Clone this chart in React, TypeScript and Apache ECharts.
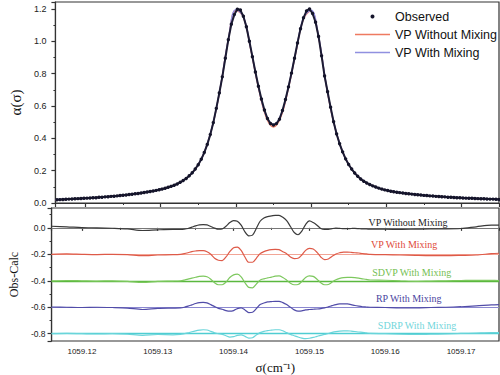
import React, { useEffect, useRef } from "react";
import * as echarts from "echarts";

// ---------- DATA ----------
// Observed absorption profile, sampled every 0.0004 cm-1 from 1059.1162
const OBS_START = 1059.1162;
const OBS_STEP = 0.0004;
const observed = [
  0.020, 0.021, 0.022, 0.023, 0.024, 0.025, 0.026, 0.027, 0.028, 0.029,
  0.030, 0.031, 0.032, 0.033, 0.035, 0.036, 0.038, 0.039, 0.041, 0.042,
  0.044, 0.046, 0.048, 0.050, 0.052, 0.054, 0.057, 0.059, 0.062, 0.065,
  0.068, 0.071, 0.074, 0.078, 0.082, 0.086, 0.091, 0.097, 0.103, 0.110,
  0.118, 0.128, 0.139, 0.152, 0.168, 0.187, 0.21, 0.237, 0.27, 0.312,
  0.362, 0.423, 0.497, 0.585, 0.68, 0.78, 0.895, 1.01, 1.105, 1.165,
  1.198, 1.193, 1.155, 1.09, 1.0, 0.905, 0.81, 0.722, 0.643, 0.575,
  0.522, 0.492,
  0.482,
  0.491, 0.518, 0.572, 0.64, 0.718, 0.803, 0.895, 0.99, 1.078, 1.145,
  1.188, 1.2, 1.172, 1.118, 1.03, 0.91, 0.785, 0.688, 0.592, 0.502,
  0.427, 0.366, 0.316, 0.273, 0.238, 0.21, 0.186, 0.165, 0.148, 0.135,
  0.124, 0.114, 0.106, 0.099, 0.092, 0.086, 0.081, 0.077, 0.073, 0.070,
  0.067, 0.064, 0.062, 0.059, 0.057, 0.055, 0.053, 0.051, 0.049, 0.047,
  0.046, 0.044, 0.043, 0.041, 0.040, 0.039, 0.038, 0.036, 0.035, 0.034,
  0.033, 0.032, 0.031, 0.030, 0.029, 0.029, 0.028, 0.027, 0.026, 0.026,
  0.025, 0.024, 0.024, 0.023, 0.022,
];

// Fitted profiles, sampled every 0.001 cm-1 from 1059.116
const FIT_START = 1059.116;
const FIT_STEP = 0.001;
const vpWithoutMixing = [
  0.020, 0.022, 0.025, 0.027, 0.030, 0.032, 0.036, 0.039, 0.043, 0.048,
  0.053, 0.059, 0.066, 0.074, 0.084, 0.097, 0.114, 0.139, 0.177, 0.237,
  0.337, 0.497, 0.73, 1.01, 1.192, 1.15, 0.945, 0.715, 0.535,
  0.47,
  0.535, 0.712, 0.935, 1.14, 1.188, 1.025, 0.735, 0.5, 0.34, 0.238,
  0.176, 0.135, 0.11, 0.092, 0.079, 0.07, 0.063, 0.057, 0.052, 0.047,
  0.044, 0.040, 0.037, 0.035, 0.032, 0.030, 0.028, 0.026, 0.024, 0.022,
];
const vpWithMixing = [
  0.020, 0.022, 0.024, 0.027, 0.029, 0.032, 0.035, 0.039, 0.043, 0.047,
  0.053, 0.059, 0.066, 0.074, 0.084, 0.097, 0.114, 0.139, 0.178, 0.238,
  0.338, 0.498, 0.732, 1.012, 1.196, 1.153, 0.95, 0.72, 0.545,
  0.484,
  0.545, 0.718, 0.94, 1.145, 1.192, 1.03, 0.737, 0.502, 0.341, 0.238,
  0.177, 0.136, 0.11, 0.092, 0.079, 0.071, 0.064, 0.058, 0.053, 0.048,
  0.044, 0.041, 0.038, 0.035, 0.032, 0.030, 0.028, 0.026, 0.024, 0.022,
];

// Residual wavenumbers
const residualX = [
  1059.116, 1059.118, 1059.12, 1059.122, 1059.124, 1059.126, 1059.128, 1059.13, 1059.132,
  1059.133, 1059.1335, 1059.134, 1059.1345, 1059.135, 1059.1355, 1059.136, 1059.1365, 1059.137, 1059.1375,
  1059.138, 1059.1385, 1059.139, 1059.1395, 1059.14, 1059.1405, 1059.141, 1059.1415, 1059.142, 1059.1425,
  1059.143, 1059.1435, 1059.144, 1059.1445, 1059.145, 1059.1455, 1059.146, 1059.1465, 1059.147, 1059.1475,
  1059.148, 1059.1485, 1059.149, 1059.1495, 1059.15, 1059.1505, 1059.151, 1059.1515, 1059.152, 1059.1525,
  1059.153, 1059.1535, 1059.154, 1059.1545, 1059.155, 1059.1555, 1059.156, 1059.1565, 1059.157, 1059.1575,
  1059.158,
  1059.16, 1059.162, 1059.164, 1059.166, 1059.168, 1059.17, 1059.172, 1059.174, 1059.175,
];

// Obs - Calc residuals (before vertical offset)
const resVPWithout = [
  0.012, 0.008, 0.002, 0.0, -0.003, -0.008, -0.02, -0.015, -0.012,
  -0.012, -0.01, -0.005, 0.005, 0.015, 0.022, 0.025, 0.022, 0.01, -0.002,
  -0.01, -0.008, 0.012, 0.04, 0.055, 0.05, 0.02, -0.03, -0.06, -0.055,
  -0.005, 0.05, 0.075, 0.085, 0.09, 0.095, 0.095, 0.08, 0.055, 0.01,
  -0.035, -0.052, -0.025, 0.025, 0.052, 0.04, 0.02, -0.005, -0.012, -0.012,
  -0.006, -0.002, -0.004, -0.006, -0.006, -0.005, -0.004, -0.006, -0.008, -0.008,
  -0.01,
  -0.01, -0.012, -0.01, -0.008, -0.008, -0.005, 0.008, 0.02, 0.02,
];
const resVPWith = [
  0.0, 0.003, 0.0, -0.002, 0.0, -0.003, -0.01, -0.005, -0.003,
  0.0, 0.005, 0.012, 0.02, 0.025, 0.028, 0.028, 0.02, 0.0, -0.03,
  -0.045, -0.048, -0.02, 0.02, 0.05, 0.055, 0.03, -0.02, -0.06, -0.06,
  -0.03, 0.005, 0.02, 0.03, 0.035, 0.037, 0.035, 0.02, 0.005, -0.02,
  -0.032, -0.03, -0.005, 0.03, 0.045, 0.04, 0.015, -0.02, -0.04, -0.035,
  -0.015, 0.003, 0.012, 0.017, 0.017, 0.015, 0.012, 0.01, 0.006, 0.003,
  0.0,
  -0.003, -0.005, -0.008, -0.01, -0.01, -0.008, -0.005, 0.005, 0.008,
];
const resSDVPWith = [
  0.0, 0.002, 0.0, -0.002, 0.0, -0.004, -0.012, -0.004, -0.002,
  0.0, 0.005, 0.012, 0.02, 0.027, 0.033, 0.035, 0.03, 0.012, -0.015,
  -0.03, -0.03, -0.01, 0.025, 0.045, 0.05, 0.03, -0.015, -0.05, -0.053,
  -0.025, 0.005, 0.015, 0.022, 0.028, 0.035, 0.037, 0.025, 0.005, -0.018,
  -0.03, -0.028, -0.005, 0.025, 0.037, 0.033, 0.012, -0.015, -0.03, -0.028,
  -0.01, 0.008, 0.018, 0.024, 0.026, 0.026, 0.024, 0.02, 0.015, 0.01,
  0.006,
  0.004, 0.0, -0.004, -0.002, 0.0, 0.002, 0.004, 0.003, 0.002,
];
const resRPWith = [
  0.002, 0.0, -0.002, 0.0, -0.002, -0.006, -0.017, -0.008, -0.006,
  -0.005, 0.0, 0.008, 0.018, 0.028, 0.035, 0.037, 0.033, 0.02, 0.005,
  -0.008, -0.015, -0.025, -0.03, -0.025, -0.01, -0.005, -0.02, -0.04, -0.038,
  -0.01, 0.02, 0.032, 0.04, 0.043, 0.045, 0.045, 0.035, 0.02, 0.0,
  -0.02, -0.03, -0.028, -0.02, -0.017, -0.015, -0.013, -0.01, -0.005, 0.003,
  0.012, 0.02, 0.025, 0.026, 0.025, 0.02, 0.013, 0.008, 0.004, 0.002,
  0.0,
  -0.002, -0.004, -0.004, -0.002, 0.0, 0.004, 0.01, 0.018, 0.02,
];
const resSDRPWith = [
  0.0, 0.002, 0.0, -0.002, 0.0, -0.004, -0.012, -0.006, -0.008,
  -0.005, 0.0, 0.006, 0.015, 0.022, 0.027, 0.03, 0.028, 0.018, 0.007,
  0.0, -0.005, -0.015, -0.025, -0.022, -0.012, -0.008, -0.02, -0.033, -0.03,
  -0.01, 0.008, 0.018, 0.024, 0.027, 0.03, 0.03, 0.022, 0.008, -0.005,
  -0.015, -0.025, -0.033, -0.037, -0.034, -0.028, -0.02, -0.012, -0.005, 0.002,
  0.01, 0.016, 0.02, 0.022, 0.022, 0.02, 0.017, 0.013, 0.01, 0.006,
  0.003,
  0.0, -0.004, -0.006, -0.004, -0.002, 0.002, 0.005, 0.008, 0.008,
];

const residualNames = [
  "VP Without Mixing",
  "VP With Mixing",
  "SDVP With Mixing",
  "RP With Mixing",
  "SDRP With Mixing",
];
const residualSets = [resVPWithout, resVPWith, resSDVPWith, resRPWith, resSDRPWith];
const residualOffsets = [0, -0.2, -0.4, -0.6, -0.8];

// ---------- STYLE / LAYOUT ----------
const X_MIN = 1059.116;
const X_MAX = 1059.175;
const residualLineColors = ["#3a3a3a", "#de5a48", "#7dc85e", "#514ca8", "#6ad5da"];
const residualBaseColors = ["#777777", "#f2a596", "#5ab83e", "#8b88d0", "#4fcdd2"];
const residualLabelColors = ["#1e1e1e", "#e04a3a", "#74c052", "#4a45a0", "#72d6db"];
const residualLabelAnchor = [
  [1059.163, 0.043],
  [1059.1625, -0.125],
  [1059.1635, -0.337],
  [1059.1631, -0.536],
  [1059.1642, -0.737],
];
const LINE_ICON = "path://M0 0H35V1.4H0Z";

const fmt = (d: number) => (v: number) => {
  if (Math.abs(v) < 1e-9) return (0).toFixed(d);
  return v.toFixed(d);
};

export default function App() {
  const ref = useRef<HTMLDivElement>(null);

  useEffect(() => {
    if (!ref.current) return;
    const chart = echarts.init(ref.current, null, { renderer: "svg" });

    const axisLineStyle = { color: "#333", width: 1.2 };

    const obsData = observed.map((v, i) => [+(OBS_START + i * OBS_STEP).toFixed(4), v]);
    const fitX = (i: number) => +(FIT_START + i * FIT_STEP).toFixed(4);

    const residualSeries: any[] = residualSets.map((set, k) => ({
      name: residualNames[k],
      type: "line",
      xAxisIndex: 1,
      yAxisIndex: 1,
      showSymbol: false,
      symbol: "none",
      smooth: 0.3,
      silent: true,
      z: 3,
      lineStyle: { color: residualLineColors[k], width: 1.2 },
      data: residualX.map((x, i) => [x, set[i] + residualOffsets[k]]),
      markLine: {
        silent: true,
        symbol: ["none", "none"],
        label: { show: false },
        lineStyle: { color: residualBaseColors[k], width: k === 2 || k === 4 ? 1.4 : 1, type: "solid" },
        data: [{ yAxis: residualOffsets[k] }],
        z: 2,
      },
      markPoint: {
        silent: true,
        symbol: "circle",
        symbolSize: 1,
        itemStyle: { color: "rgba(0,0,0,0)" },
        label: {
          show: true,
          position: "inside",
          formatter: residualNames[k],
          color: residualLabelColors[k],
          fontFamily: "Liberation Serif",
          fontSize: 10,
        },
        data: [{ coord: residualLabelAnchor[k] }],
      },
    }));

    chart.setOption({
      animation: false,
      backgroundColor: "#ffffff",
      grid: [
        { left: 43, right: 1, top: 2, height: 201, show: true, borderColor: "#333", borderWidth: 1.2, backgroundColor: "transparent" },
        { left: 43, right: 1, top: 208, height: 135, show: true, borderColor: "#333", borderWidth: 1.2, backgroundColor: "transparent" },
      ],
      legend: {
        orient: "vertical",
        left: 350,
        top: 5,
        itemWidth: 35,
        itemHeight: 4,
        itemGap: 5,
        selectedMode: false,
        textStyle: { fontFamily: "Liberation Sans", fontSize: 12.5, color: "#111" },
        data: [
          { name: "Observed", icon: "circle" },
          { name: "VP Without Mixing", icon: LINE_ICON },
          { name: "VP With Mixing", icon: LINE_ICON },
        ],
      },
      xAxis: [
        {
          type: "value",
          gridIndex: 0,
          min: X_MIN,
          max: X_MAX,
          axisLine: { show: true, lineStyle: axisLineStyle },
          axisTick: { show: true, inside: false, length: 4, lineStyle: axisLineStyle },
          minorTick: { show: true, splitNumber: 2, length: 2, lineStyle: { color: "#333" } },
          axisLabel: { show: false },
          splitLine: { show: false },
        },
        {
          type: "value",
          gridIndex: 1,
          min: X_MIN,
          max: X_MAX,
          axisLine: { show: true, lineStyle: axisLineStyle },
          axisTick: { show: true, inside: false, length: 3, lineStyle: axisLineStyle },
          minorTick: { show: true, splitNumber: 2, length: 2, lineStyle: { color: "#333" } },
          axisLabel: {
            show: true,
            formatter: fmt(2),
            fontSize: 8,
            fontFamily: "Liberation Sans",
            color: "#222",
            margin: 6,
            showMinLabel: false,
            showMaxLabel: false,
          },
          splitLine: { show: false },
          name: "σ(cm⁻¹)",
          nameLocation: "middle",
          nameGap: 20,
          nameTextStyle: { fontFamily: "Liberation Serif", fontSize: 13, color: "#111" },
        },
      ],
      yAxis: [
        {
          type: "value",
          gridIndex: 0,
          min: 0,
          max: 1.243,
          interval: 0.2,
          axisLine: { show: true, lineStyle: axisLineStyle },
          axisTick: { show: true, inside: false, length: 4, lineStyle: axisLineStyle },
          minorTick: { show: true, splitNumber: 2, length: 2, lineStyle: { color: "#333" } },
          axisLabel: {
            formatter: fmt(1),
            fontSize: 9,
            fontFamily: "Liberation Sans",
            color: "#222",
            margin: 9,
            showMaxLabel: false,
          },
          splitLine: { show: false },
          name: "α(σ)",
          nameLocation: "middle",
          nameGap: 31,
          nameTextStyle: { fontFamily: "Liberation Serif", fontSize: 15, color: "#111" },
        },
        {
          type: "value",
          gridIndex: 1,
          min: -0.855,
          max: 0.15,
          axisLine: { show: true, lineStyle: axisLineStyle },
          axisTick: { show: true, inside: false, length: 4, lineStyle: axisLineStyle },
          minorTick: { show: true, splitNumber: 2, length: 2, lineStyle: { color: "#333" } },
          axisLabel: {
            formatter: fmt(1),
            fontSize: 8.5,
            fontFamily: "Liberation Sans",
            color: "#222",
            margin: 6,
            showMinLabel: false,
            showMaxLabel: false,
          },
          splitLine: { show: false },
          name: "Obs-Calc",
          nameLocation: "middle",
          nameGap: 30,
          nameTextStyle: { fontFamily: "Liberation Serif", fontSize: 12, color: "#111" },
        },
      ],
      series: [
        {
          name: "VP Without Mixing",
          type: "line",
          xAxisIndex: 0,
          yAxisIndex: 0,
          showSymbol: false,
          symbol: "none",
          smooth: 0.4,
          silent: true,
          z: 2,
          color: "#ee7a60",
          lineStyle: { color: "#ee7a60", width: 1.4 },
          data: vpWithoutMixing.map((v, i) => [fitX(i), v]),
        },
        {
          name: "VP With Mixing",
          type: "line",
          xAxisIndex: 0,
          yAxisIndex: 0,
          showSymbol: false,
          symbol: "none",
          smooth: 0.4,
          silent: true,
          z: 3,
          color: "#9090e0",
          lineStyle: { color: "#9090e0", width: 1.4 },
          data: vpWithMixing.map((v, i) => [fitX(i), v]),
        },
        {
          name: "Observed",
          type: "line",
          xAxisIndex: 0,
          yAxisIndex: 0,
          showSymbol: true,
          showAllSymbol: true,
          symbol: "circle",
          symbolSize: 3.4,
          silent: true,
          z: 4,
          color: "#14142a",
          itemStyle: { color: "#14142a" },
          lineStyle: { color: "#1c1c34", width: 2 },
          data: obsData,
        },
        ...residualSeries,
      ],
    });

    return () => chart.dispose();
  }, []);

  return (
    <div
      ref={ref}
      style={{ position: "fixed", left: 0, top: 0, width: 500, height: 375, background: "#fff" }}
    />
  );
}
